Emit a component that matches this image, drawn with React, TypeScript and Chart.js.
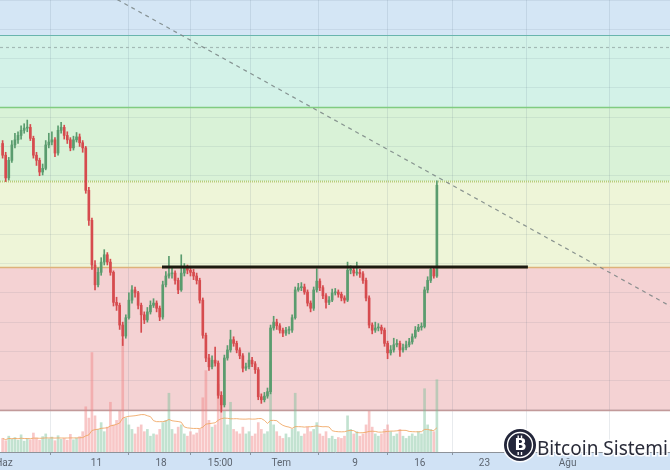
import React, { useEffect, useRef } from 'react';
import { Chart, registerables } from 'chart.js';

Chart.register(...registerables);

// ---- time axis (days since 1 June) ----
const tickDays = [0, 10, 17, 23.4, 30, 38, 45, 52, 61];
const tickLabels = ['Haz', '11', '18', '15:00', 'Tem', '9', '16', '23', 'Ağu'];
const xMinDay = -0.433;
const xMaxDay = 72.08;
const firstCandleDay = -0.15;
const candleStepDays = 1 / 3; // 8h candles

// ---- price axis ----
const yMinPrice = 5513;
const yMaxPrice = 8600;
const priceGridLines = [5800, 6000, 6200, 6400, 6600, 6800, 7000, 7200, 7400, 7600, 7800, 8000, 8200, 8400, 8600];

// ---- candles ----
const opens = [
  7620, 7540, 7385, 7505, 7610, 7645, 7675, 7710, 7725, 7730,
  7655, 7540, 7505, 7425, 7450, 7610, 7630, 7645, 7555, 7710,
  7730, 7675, 7645, 7590, 7645, 7665, 7625, 7590, 7300, 7095,
  6790, 6655, 6740, 6810, 6860, 6810, 6740, 6535, 6515, 6380,
  6305, 6430, 6550, 6620, 6600, 6515, 6450, 6415, 6470, 6515,
  6530, 6495, 6435, 6655, 6715, 6730, 6735, 6685, 6620, 6735,
  6770, 6755, 6740, 6715, 6685, 6550, 6310, 6155, 6095, 6140,
  6120, 5900, 5835, 6155, 6210, 6280, 6255, 6210, 6170, 6085,
  6095, 6140, 6115, 6075, 5890, 5870, 5895, 5925, 6360, 6400,
  6375, 6345, 6325, 6345, 6345, 6430, 6620, 6635, 6640, 6605,
  6530, 6495, 6620, 6680, 6635, 6580, 6535, 6550, 6600, 6605,
  6590, 6565, 6550, 6755, 6755, 6735, 6740, 6730, 6685, 6565,
  6380, 6345, 6360, 6365, 6345, 6255, 6190, 6210, 6245, 6255,
  6210, 6225, 6245, 6265, 6300, 6345, 6365, 6370, 6620, 6685,
  6760, 6715,
];
const highs = [
  7640, 7560, 7525, 7640, 7690, 7700, 7740, 7755, 7780, 7750,
  7670, 7560, 7520, 7480, 7640, 7690, 7700, 7660, 7740, 7765,
  7745, 7700, 7660, 7670, 7695, 7685, 7640, 7600, 7320, 7110,
  6820, 6770, 6840, 6895, 6875, 6830, 6750, 6570, 6530, 6400,
  6450, 6600, 6650, 6640, 6610, 6530, 6470, 6500, 6545, 6560,
  6545, 6510, 6680, 6745, 6850, 6770, 6750, 6700, 6860, 6800,
  6790, 6775, 6760, 6735, 6700, 6565, 6325, 6180, 6170, 6230,
  6135, 5925, 6175, 6240, 6345, 6300, 6270, 6225, 6185, 6120,
  6190, 6160, 6130, 6090, 5910, 5920, 5950, 6380, 6440, 6420,
  6390, 6360, 6365, 6370, 6450, 6640, 6665, 6670, 6660, 6620,
  6545, 6640, 6765, 6695, 6650, 6595, 6575, 6625, 6630, 6620,
  6605, 6580, 6810, 6785, 6770, 6810, 6760, 6745, 6700, 6580,
  6395, 6400, 6390, 6380, 6360, 6270, 6240, 6290, 6280, 6270,
  6250, 6270, 6290, 6320, 6370, 6385, 6395, 6640, 6710, 6780,
  6775, 7365,
];
const lows = [
  7520, 7360, 7370, 7490, 7590, 7620, 7650, 7690, 7700, 7640,
  7520, 7470, 7400, 7405, 7440, 7590, 7610, 7530, 7540, 7690,
  7650, 7620, 7570, 7575, 7630, 7600, 7560, 7280, 7060, 6760,
  6620, 6640, 6720, 6790, 6790, 6720, 6510, 6480, 6350, 6240,
  6290, 6420, 6530, 6570, 6490, 6330, 6390, 6400, 6455, 6500,
  6470, 6410, 6420, 6640, 6700, 6700, 6660, 6595, 6610, 6715,
  6730, 6715, 6690, 6660, 6530, 6290, 6130, 6070, 6080, 6100,
  5880, 5785, 5820, 6140, 6195, 6235, 6190, 6150, 6060, 6070,
  6080, 6095, 6050, 5870, 5845, 5855, 5880, 5910, 6345, 6350,
  6325, 6300, 6310, 6320, 6330, 6420, 6610, 6615, 6590, 6510,
  6470, 6480, 6605, 6615, 6560, 6495, 6520, 6540, 6585, 6570,
  6545, 6530, 6540, 6730, 6715, 6720, 6705, 6665, 6545, 6360,
  6320, 6330, 6340, 6320, 6235, 6150, 6175, 6195, 6230, 6165,
  6195, 6210, 6230, 6250, 6290, 6335, 6345, 6360, 6600, 6670,
  6700, 6705,
];
const closes = [
  7540, 7385, 7505, 7610, 7645, 7675, 7710, 7725, 7730, 7655,
  7540, 7505, 7425, 7450, 7610, 7630, 7645, 7555, 7710, 7730,
  7675, 7645, 7590, 7645, 7665, 7625, 7590, 7300, 7095, 6790,
  6655, 6740, 6810, 6860, 6810, 6740, 6535, 6515, 6380, 6305,
  6430, 6550, 6620, 6600, 6515, 6450, 6415, 6470, 6515, 6530,
  6495, 6435, 6655, 6715, 6730, 6735, 6685, 6620, 6735, 6770,
  6755, 6740, 6715, 6685, 6550, 6310, 6155, 6095, 6140, 6120,
  5900, 5835, 6155, 6210, 6280, 6255, 6210, 6170, 6085, 6095,
  6140, 6115, 6075, 5890, 5870, 5895, 5925, 6360, 6400, 6375,
  6345, 6325, 6345, 6345, 6430, 6620, 6635, 6640, 6605, 6530,
  6495, 6620, 6680, 6635, 6580, 6535, 6550, 6600, 6605, 6590,
  6565, 6550, 6755, 6755, 6735, 6740, 6730, 6685, 6565, 6380,
  6345, 6360, 6365, 6345, 6255, 6190, 6210, 6245, 6255, 6210,
  6225, 6245, 6265, 6300, 6345, 6365, 6370, 6620, 6685, 6760,
  6715, 7335,
];
const volumes = [
  3.0, 2.5, 3.5, 2.8, 3.2, 2.6, 3.8, 2.4, 3.0, 2.7,
  4.2, 3.1, 2.6, 3.4, 4.0, 2.9, 3.3, 2.5, 3.6, 2.8,
  3.0, 2.6, 3.9, 2.7, 3.1, 3.4, 4.5, 10.0, 7.5, 22.0,
  8.0, 5.0, 6.5, 4.5, 5.5, 11.0, 6.0, 7.0, 9.0, 25.0,
  7.5, 6.0, 5.0, 4.0, 5.5, 6.0, 4.5, 5.0, 3.5, 4.0,
  3.8, 5.0, 6.5, 7.0, 13.0, 5.0, 4.0, 5.5, 6.0, 4.0,
  3.5, 4.5, 3.8, 4.2, 5.0, 12.0, 18.0, 7.0, 5.5, 6.0,
  15.0, 12.0, 9.0, 6.0, 11.0, 5.0, 4.5, 4.0, 5.5, 4.0,
  4.5, 3.5, 4.0, 6.5, 5.0, 4.0, 4.5, 20.0, 6.0, 4.5,
  3.5, 3.0, 4.0, 3.2, 5.0, 13.0, 4.5, 3.5, 4.0, 5.5,
  4.5, 5.0, 6.5, 4.0, 3.5, 4.5, 3.0, 3.5, 2.8, 3.2,
  3.0, 3.5, 8.0, 5.0, 4.0, 4.5, 3.5, 4.0, 6.0, 9.0,
  5.5, 4.0, 3.5, 4.0, 5.0, 6.0, 4.5, 3.5, 4.0, 5.0,
  3.5, 3.0, 3.5, 4.0, 3.5, 4.5, 4.0, 14.0, 6.0, 5.0,
  4.5, 16.0,
];
const volumeMaPeriod = 20;
const volumeAxisMax = 100;

// ---- drawing levels ----
const fibLevels = [8360, 8278, 7868, 7363, 6776, 5800];
const supportLineDays = [17.1, 56.7];
const supportLinePrice = 6776;
const trendLineDays = [10, 74];
const trendLinePrices = [8682, 6443];

const bandColors = ['#d4e6f5', '#d3f2e8', '#d9f2d7', '#eef5d8', '#f4d2d3'];
const levelStyles = [
  { color: '#69b5ad', dash: [] as number[], width: 1.2 },
  { color: '#a3bab5', dash: [3, 3], width: 1.2 },
  { color: '#80cc80', dash: [] as number[], width: 1.5 },
  { color: '#b5cc7a', dash: [1, 1], width: 2 },
  { color: '#ddb27a', dash: [] as number[], width: 1.5 },
  { color: '#c29a9a', dash: [] as number[], width: 1.5 },
];

export default function App() {
  const canvasRef = useRef<HTMLCanvasElement>(null);

  useEffect(() => {
    const canvas = canvasRef.current;
    if (!canvas) return;

    const days = closes.map((_, i) => firstCandleDay + i * candleStepDays);
    const isUp = closes.map((c, i) => c >= opens[i]);
    const candleColors = isUp.map((u) => (u ? '#5a9c6e' : '#d64b4e'));
    const volumeColors = isUp.map((u) => (u ? 'rgba(120,190,150,0.45)' : 'rgba(240,130,130,0.45)'));
    const volumeMa = volumes.map((_, i) => {
      const win = volumes.slice(Math.max(0, i - volumeMaPeriod + 1), i + 1);
      return win.reduce((a, b) => a + b, 0) / win.length;
    });

    const bandsPlugin = {
      id: 'fibBands',
      beforeDraw(chart: any) {
        const { ctx, chartArea: a, scales } = chart;
        const y = scales.y;
        ctx.save();
        ctx.fillStyle = '#ffffff';
        ctx.fillRect(0, 0, chart.width, chart.height);
        ctx.fillStyle = '#d0e2f5';
        ctx.fillRect(0, a.bottom, chart.width, chart.height - a.bottom);
        const edges = [yMaxPrice, fibLevels[0], fibLevels[2], fibLevels[3], fibLevels[4], fibLevels[5]];
        for (let i = 0; i < bandColors.length; i++) {
          const y0 = Math.max(a.top, y.getPixelForValue(edges[i]));
          const y1 = y.getPixelForValue(edges[i + 1]);
          ctx.fillStyle = bandColors[i];
          ctx.fillRect(a.left, y0, a.right - a.left, y1 - y0);
        }
        ctx.restore();
      },
      beforeDatasetsDraw(chart: any) {
        const { ctx, chartArea: a, scales } = chart;
        const y = scales.y;
        ctx.save();
        fibLevels.forEach((lvl, i) => {
          const st = levelStyles[i];
          const py = Math.round(y.getPixelForValue(lvl)) + 0.5;
          ctx.strokeStyle = st.color;
          ctx.lineWidth = st.width;
          ctx.setLineDash(st.dash);
          ctx.beginPath();
          ctx.moveTo(a.left, py);
          ctx.lineTo(a.right, py);
          ctx.stroke();
        });
        ctx.restore();
      },
      afterDraw(chart: any) {
        const { ctx } = chart;
        const cx = 520;
        const cy = 445;
        const r = 16;
        ctx.save();
        ctx.beginPath();
        ctx.arc(cx, cy, r + 1.5, 0, Math.PI * 2);
        ctx.fillStyle = 'rgba(255,255,255,0.9)';
        ctx.fill();
        ctx.beginPath();
        ctx.arc(cx, cy, r, 0, Math.PI * 2);
        ctx.fillStyle = '#23263a';
        ctx.fill();
        ctx.beginPath();
        ctx.arc(cx, cy, r - 3.5, 0, Math.PI * 2);
        ctx.strokeStyle = '#ffffff';
        ctx.lineWidth = 1.4;
        ctx.stroke();
        ctx.fillStyle = '#ffffff';
        ctx.font = 'bold 16px "DejaVu Sans"';
        ctx.textAlign = 'center';
        ctx.textBaseline = 'middle';
        ctx.fillText('B', cx + 0.5, cy + 1);
        ctx.fillRect(cx - 2.5, cy - 9.5, 1.4, 3);
        ctx.fillRect(cx + 0.8, cy - 9.5, 1.4, 3);
        ctx.fillRect(cx - 2.5, cy + 7, 1.4, 3);
        ctx.fillRect(cx + 0.8, cy + 7, 1.4, 3);
        // fit brand text into the space to the right of the logo
        const text = 'Bitcoin Sistemi';
        const targetWidth = 131;
        ctx.font = '20px "Noto Sans"';
        const w = ctx.measureText(text).width;
        const size = Math.min(22, (20 * targetWidth) / w);
        ctx.font = `${size.toFixed(2)}px "Noto Sans"`;
        ctx.textAlign = 'left';
        ctx.textBaseline = 'alphabetic';
        ctx.lineWidth = 3;
        ctx.strokeStyle = 'rgba(255,255,255,0.9)';
        ctx.strokeText(text, 537, 455);
        ctx.fillStyle = '#2a2c3a';
        ctx.fillText(text, 537, 455);
        ctx.restore();
      },
    };

    const chart = new Chart(canvas, {
      type: 'bar',
      data: {
        datasets: [
          {
            type: 'line',
            label: 'trend',
            data: trendLineDays.map((d, i) => ({ x: d, y: trendLinePrices[i] })),
            borderColor: 'rgba(120,130,130,0.85)',
            borderWidth: 1.2,
            borderDash: [4, 4],
            pointRadius: 0,
            yAxisID: 'y',
            order: 5,
          } as any,
          {
            type: 'line',
            label: 'support',
            data: supportLineDays.map((d) => ({ x: d, y: supportLinePrice })),
            borderColor: '#1d1a10',
            borderWidth: 3,
            pointRadius: 0,
            yAxisID: 'y',
            order: 0,
          } as any,
          {
            type: 'bar',
            label: 'wicks',
            data: days.map((d, i) => ({ x: d, y: [lows[i], highs[i]] })),
            backgroundColor: candleColors,
            barThickness: 1,
            grouped: false,
            yAxisID: 'y',
            order: 2,
          } as any,
          {
            type: 'bar',
            label: 'bodies',
            data: days.map((d, i) => ({ x: d, y: [opens[i], closes[i]] })),
            backgroundColor: candleColors,
            barThickness: 2,
            minBarLength: 1,
            grouped: false,
            yAxisID: 'y',
            order: 1,
          } as any,
          {
            type: 'bar',
            label: 'volume',
            data: days.map((d, i) => ({ x: d, y: volumes[i] })),
            backgroundColor: volumeColors,
            barThickness: 2,
            grouped: false,
            yAxisID: 'yv',
            order: 10,
          } as any,
          {
            type: 'line',
            label: 'volume MA',
            data: days.map((d, i) => ({ x: d, y: volumeMa[i] })),
            borderColor: 'rgba(240,165,95,0.85)',
            borderWidth: 1,
            pointRadius: 0,
            yAxisID: 'yv',
            order: 9,
          } as any,
        ],
      },
      options: {
        responsive: false,
        animation: false,
        layout: { padding: 0 },
        plugins: { legend: { display: false }, tooltip: { enabled: false } },
        scales: {
          x: {
            type: 'linear',
            min: xMinDay,
            max: xMaxDay,
            offset: false,
            afterBuildTicks: (s: any) => {
              s.ticks = tickDays.map((v) => ({ value: v }));
            },
            afterFit: (s: any) => {
              s.height = 18;
              s.paddingLeft = 0;
              s.paddingRight = 0;
            },
            ticks: {
              autoSkip: false,
              maxRotation: 0,
              minRotation: 0,
              padding: 2,
              color: '#5d6570',
              font: { size: 10, family: 'Roboto' },
              callback: (_v: any, i: number) => tickLabels[i],
            },
            grid: {
              color: 'rgba(80,100,120,0.13)',
              drawTicks: true,
              tickLength: 3,
              tickColor: '#8a96a3',
            },
            border: { display: true, color: '#8d9299' },
          },
          y: {
            type: 'linear',
            min: yMinPrice,
            max: yMaxPrice,
            afterBuildTicks: (s: any) => {
              s.ticks = priceGridLines.map((v) => ({ value: v }));
            },
            afterFit: (s: any) => {
              s.width = 0;
              s.paddingTop = 0;
              s.paddingBottom = 0;
            },
            ticks: { display: false },
            grid: { color: 'rgba(80,100,120,0.10)', drawTicks: false },
            border: { display: false },
          },
          yv: {
            type: 'linear',
            min: 0,
            max: volumeAxisMax,
            display: false,
          },
        },
      } as any,
      plugins: [bandsPlugin],
    });

    return () => chart.destroy();
  }, []);

  return (
    <div style={{ position: 'fixed', left: 0, top: 0, width: 670, height: 470 }}>
      <canvas ref={canvasRef} width={670} height={470} style={{ display: 'block' }} />
    </div>
  );
}
